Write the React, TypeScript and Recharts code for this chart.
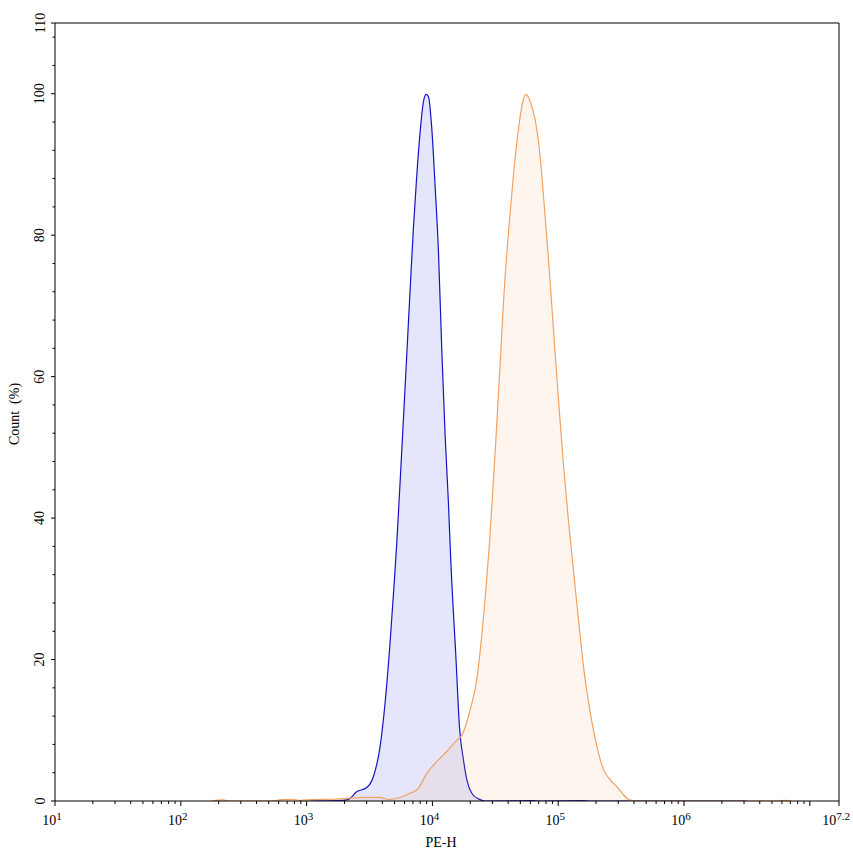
import { ComposedChart, Area, XAxis, YAxis, ReferenceLine } from "recharts";

// PE-H positions are in decades (log10 of intensity), counts are % of peak
const blueLog = [
  3.03, 3.25, 3.329, 3.398, 3.478, 3.53, 3.584, 3.624, 3.663, 3.69, 3.717, 3.756, 3.796, 3.822,
  3.849, 3.876, 3.902, 3.928, 3.95, 3.968, 3.995, 4.021, 4.048, 4.075, 4.101, 4.127, 4.146, 4.188,
  4.215, 4.247, 4.274, 4.313, 4.366, 4.419, 4.8, 4.85, 5.2, 5.25, 6.5,
];
const blueCount = [
  0, 0.05, 0.2, 1.3, 1.9, 3.4, 7.7, 13.9, 22.3, 29.2, 36.5, 49.4, 63, 72,
  81, 88.5, 94.5, 98.8, 99.9, 99.6, 95.1, 87.1, 77.7, 63.5, 51.7, 42.3, 34, 19.9,
  10.5, 5.8, 3.0, 1.1, 0.3, 0, 0.05, 0, 0.05, 0, 0,
];

const orangeLog = [
  2.25, 2.33, 2.4, 2.72, 2.8, 2.88, 2.95, 3.05, 3.2, 3.345, 3.451, 3.584, 3.65, 3.743, 3.822,
  3.888, 3.955, 4.035, 4.114, 4.194, 4.234, 4.3, 4.353, 4.393, 4.419, 4.454, 4.499, 4.539, 4.565,
  4.605, 4.644, 4.684, 4.719, 4.743, 4.777, 4.817, 4.857, 4.883, 4.923, 4.963, 5.003, 5.042, 5.082,
  5.122, 5.162, 5.201, 5.255, 5.308, 5.361, 5.414, 5.467, 5.52, 5.56, 5.626, 6.75, 6.8, 6.85,
];
const orangeCount = [
  0, 0.15, 0, 0, 0.2, 0.25, 0.1, 0.2, 0.25, 0.4, 0.5, 0.5, 0.2, 0.5, 1.1,
  1.8, 3.9, 5.6, 7.0, 8.6, 9.3, 12.9, 17.2, 23.5, 28.6, 36.5, 49.4, 62, 70.5,
  80.5, 88.5, 95, 98.9, 99.9, 98.9, 96.3, 91, 85.5, 76.5, 66.5, 56.5, 47.5, 39.5,
  32.5, 25.5, 19.0, 12.5, 7.7, 4.4, 3.0, 2.0, 0.85, 0.2, 0, 0, 0.08, 0,
];

const xMajor = [1, 2, 3, 4, 5, 6, 7, 7.232];
const xLabels = ["1", "2", "3", "4", "5", "6", "", "7.2"];
const yMajor = [0, 20, 40, 60, 80, 100, 110];

const X_MAX = 7.232;

const xMinor: number[] = [];
for (let n = 1; n <= 6; n++) {
  for (let k = 2; k <= 9; k++) xMinor.push(n + Math.log10(k));
}
const yMinor: number[] = [];
for (let v = 4; v < 110; v += 4) if (v % 20 !== 0) yMinor.push(v);

const blueData = blueLog.map((x, i) => ({ x, count: blueCount[i] }));
const orangeData = orangeLog.map((x, i) => ({ x, count: orangeCount[i] }));

const FONT = "'Liberation Serif', 'Times New Roman', serif";

function XTick(props: any) {
  const { x, y, payload } = props;
  const idx = xMajor.indexOf(payload.value);
  if (idx < 0) {
    return <line x1={x} x2={x} y1={y} y2={y + 3} stroke="#000" />;
  }
  const exp = xLabels[idx];
  return (
    <g>
      <line x1={x} x2={x} y1={y} y2={y + 5} stroke="#000" />
      {exp && (
        <text x={x - 3} y={y + 24} textAnchor="middle" fontSize={14} fontFamily={FONT} fill="#000">
          10
          <tspan fontSize={11} dy={-5}>
            {exp}
          </tspan>
        </text>
      )}
    </g>
  );
}

function YTick(props: any) {
  const { x, y, payload } = props;
  const major = yMajor.includes(payload.value);
  if (!major) return <line x1={x} x2={x - 2.5} y1={y} y2={y} stroke="#000" />;
  return (
    <g>
      <line x1={x} x2={x - 4} y1={y} y2={y} stroke="#000" />
      <text
        x={40}
        y={y}
        transform={`rotate(-90 40 ${y})`}
        textAnchor="middle"
        dominantBaseline="central"
        fontSize={14}
        fontFamily={FONT}
        fill="#000"
      >
        {payload.value}
      </text>
    </g>
  );
}

export default function App() {
  return (
    <div style={{ position: "absolute", left: 0, top: 0, background: "#fff" }}>
      <ComposedChart width={853} height={856} margin={{ top: 23, right: 14, bottom: 0, left: 0 }}>
        <XAxis
          dataKey="x"
          type="number"
          domain={[1, X_MAX]}
          allowDataOverflow
          ticks={[...xMajor, ...xMinor].sort((a, b) => a - b)}
          interval={0}
          tickLine={false}
          tickSize={0}
          tickMargin={0}
          tick={<XTick />}
          height={55}
          axisLine={{ stroke: "#000" }}
          label={{
            content: () => (
              <text x={441} y={847} textAnchor="middle" fontSize={14} fontFamily={FONT} fill="#000">
                PE-H
              </text>
            ),
          }}
        />
        <YAxis
          type="number"
          domain={[0, 110]}
          allowDataOverflow
          ticks={[...yMajor, ...yMinor].sort((a, b) => a - b)}
          interval={0}
          tickLine={false}
          tickSize={0}
          tickMargin={0}
          tick={<YTick />}
          width={55}
          axisLine={{ stroke: "#000" }}
          label={{
            content: () => (
              <text
                x={14}
                y={414}
                transform="rotate(-90 14 414)"
                textAnchor="middle"
                dominantBaseline="central"
                fontSize={14}
                fontFamily={FONT}
                fill="#000"
                style={{ whiteSpace: "pre" }}
              >
                {"Count  (%)"}
              </text>
            ),
          }}
        />
        <ReferenceLine y={110} stroke="#000" />
        <ReferenceLine x={X_MAX} stroke="#000" />
        <Area
          data={blueData}
          dataKey="count"
          type="monotone"
          stroke="#1414c4"
          strokeWidth={1.2}
          fill="#0000e6"
          fillOpacity={0.1}
          isAnimationActive={false}
          dot={false}
          activeDot={false}
        />
        <Area
          data={orangeData}
          dataKey="count"
          type="monotone"
          stroke="#f0a262"
          strokeWidth={1.2}
          fill="#f6a25a"
          fillOpacity={0.1}
          isAnimationActive={false}
          dot={false}
          activeDot={false}
        />
      </ComposedChart>
    </div>
  );
}
